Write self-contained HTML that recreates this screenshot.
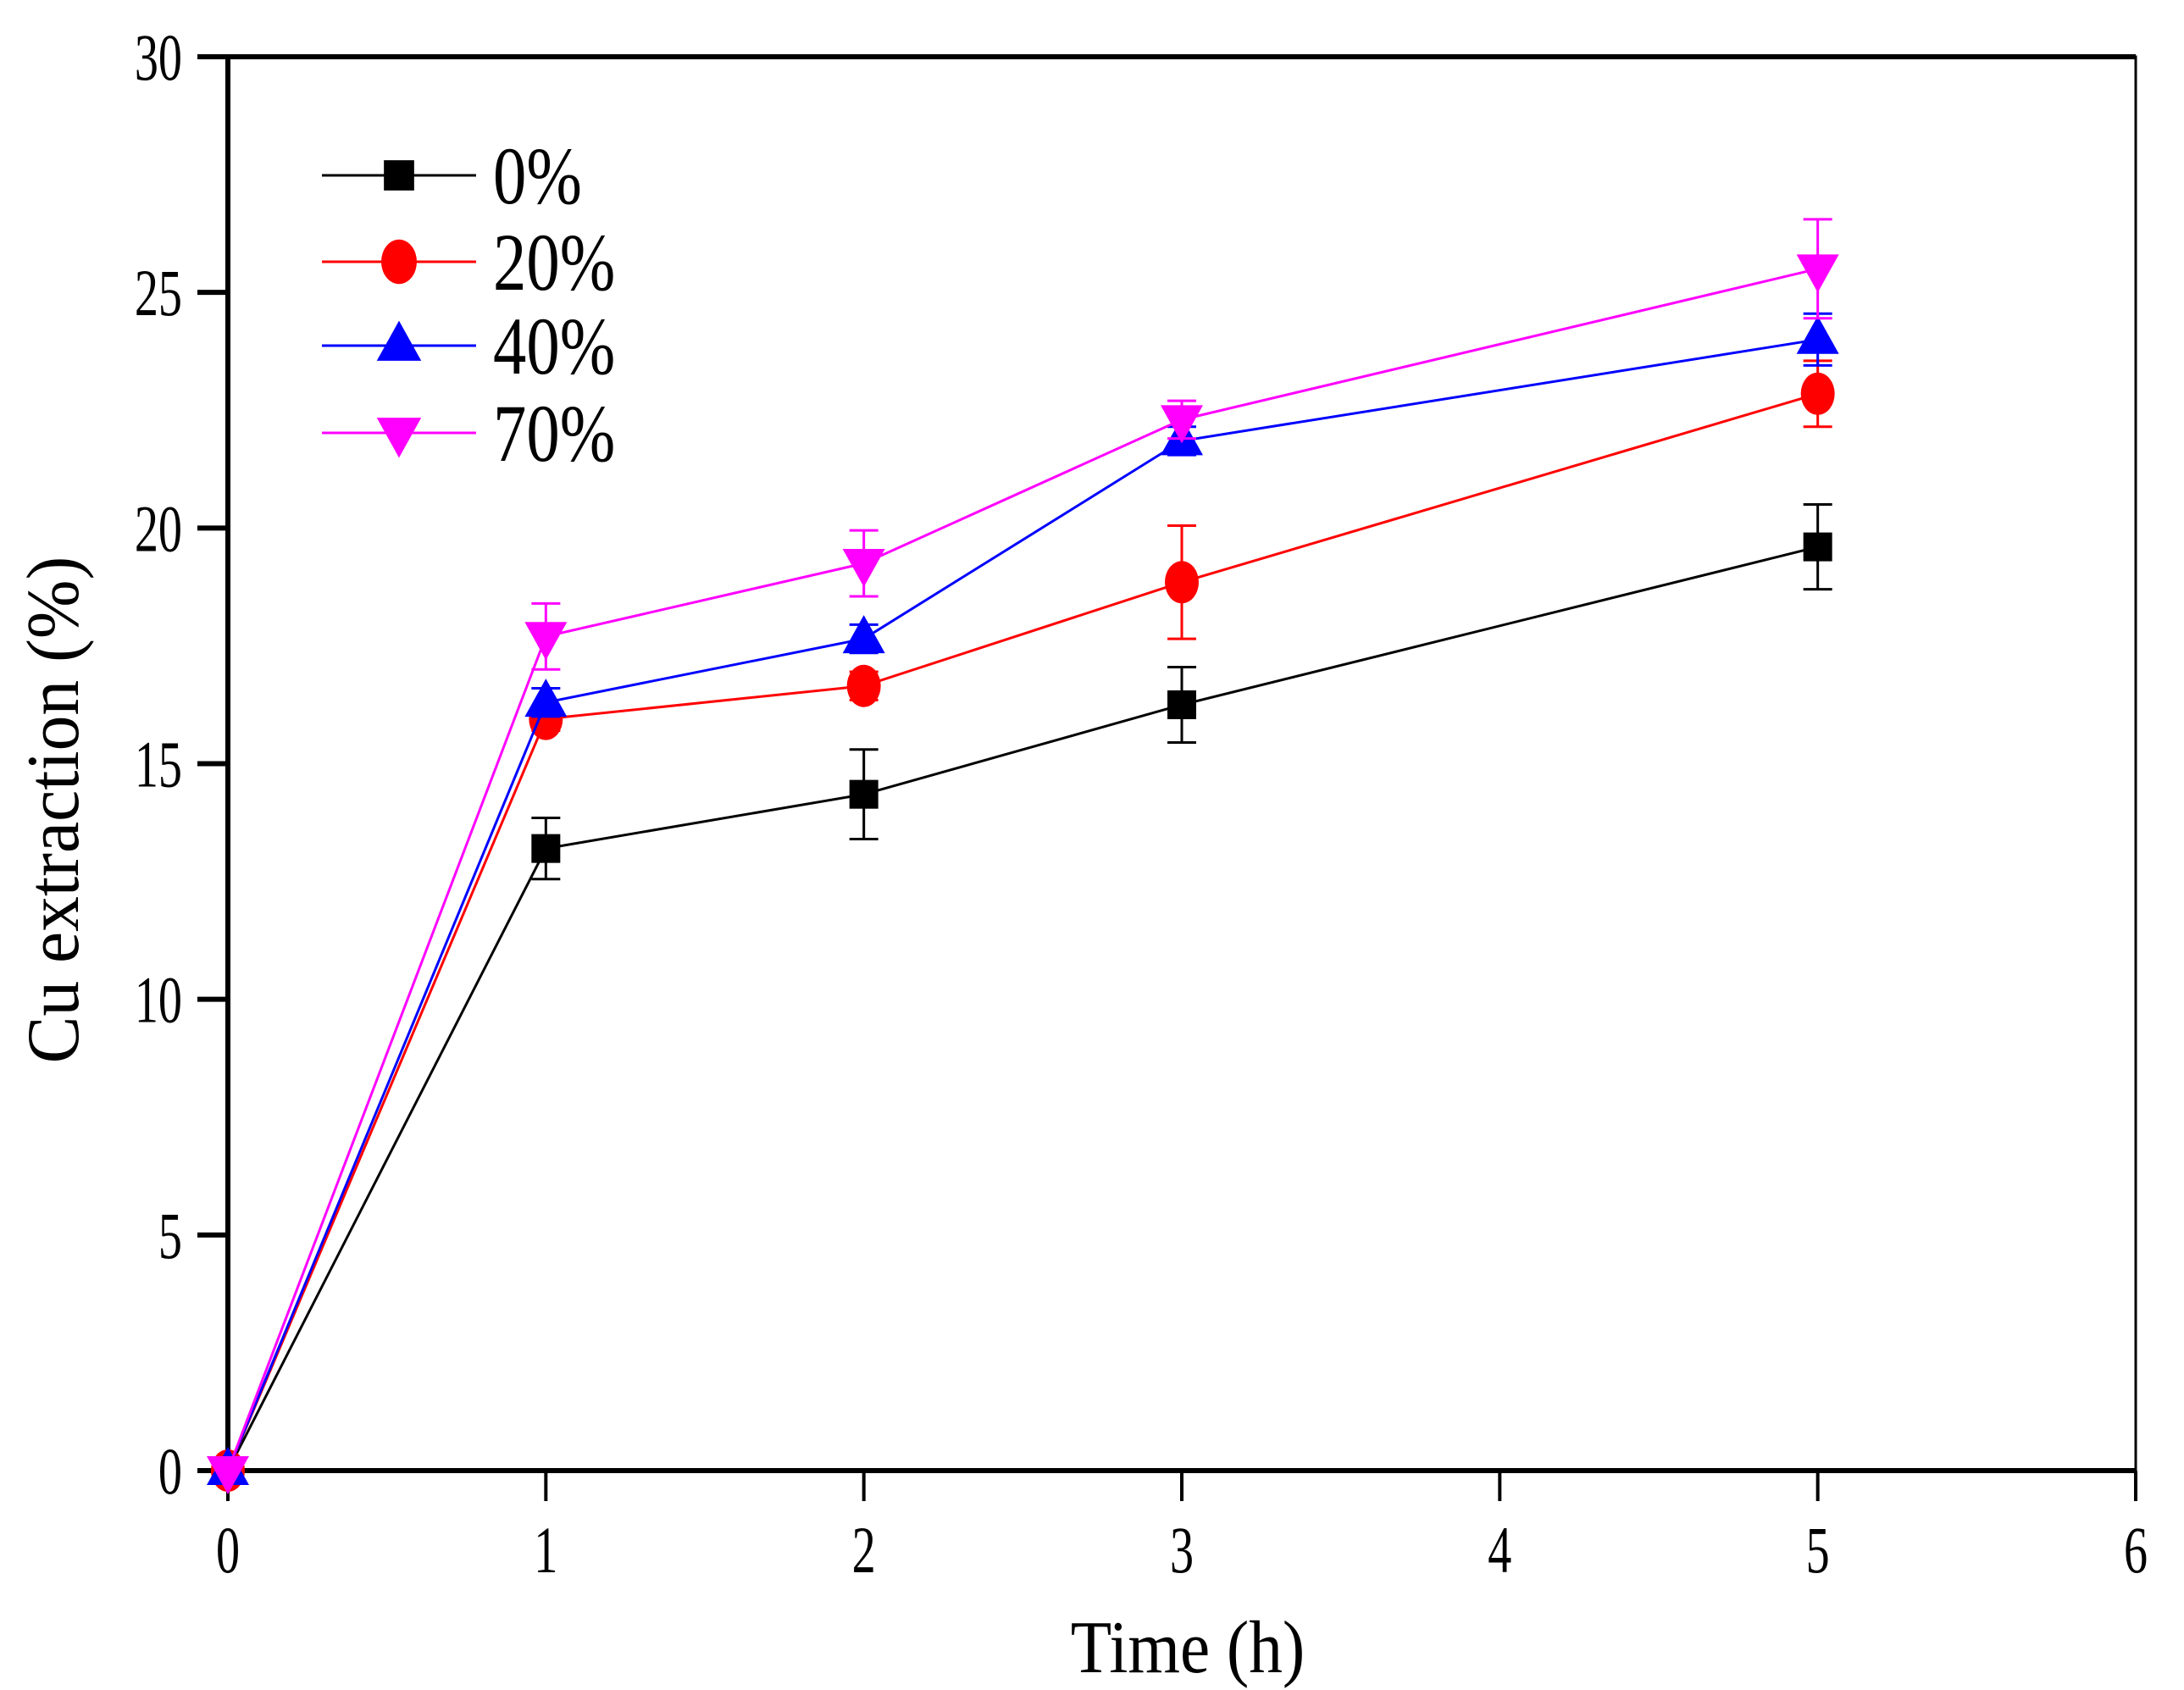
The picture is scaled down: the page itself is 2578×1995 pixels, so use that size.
<!DOCTYPE html>
<html><head><meta charset="utf-8"><style>
html,body{margin:0;padding:0;background:#fff;}
svg{display:block;}
text{font-family:"Liberation Serif",serif;fill:#000;}
</style></head><body>
<svg id="chart" width="2578" height="1995" viewBox="0 0 2578 1995" xmlns="http://www.w3.org/2000/svg">
<g id="grid"></g>
</svg>
<script>
const times = [0, 1, 2, 3, 5];
const seriesNames = ["0%", "20%", "40%", "70%"];
const vals0 = [0, 13.2, 14.35, 16.25, 19.6];
const vals20 = [0, 15.95, 16.65, 18.85, 22.85];
const vals40 = [0, 16.3, 17.65, 21.85, 24.0];
const vals70 = [0, 17.7, 19.25, 22.3, 25.5];
const err0 = [0, 0.65, 0.95, 0.8, 0.9];
const err20 = [0, 0.25, 0.3, 1.2, 0.7];
const err40 = [0, 0.3, 0.3, 0.3, 0.55];
const err70 = [0, 0.7, 0.7, 0.4, 1.05];
const xTicks = [0, 1, 2, 3, 4, 5, 6];
const yTicks = [0, 5, 10, 15, 20, 25, 30];

const NS = "http://www.w3.org/2000/svg";
const svg = document.getElementById('chart');
const X0 = 269, X1 = 2521, Y0 = 1736, Y1 = 67;
const xs = v => X0 + (v - 0) / 6 * (X1 - X0);
const ys = v => Y0 - v / 30 * (Y0 - Y1);
function mk(tag, attrs, parent) {
  const e = document.createElementNS(NS, tag);
  for (const k in attrs) e.setAttribute(k, attrs[k]);
  (parent || svg).appendChild(e);
  return e;
}
const colors = ["#000000", "#ff0000", "#0000ff", "#ff00ff"];
const allVals = [vals0, vals20, vals40, vals70];
const allErr = [err0, err20, err40, err70];
const shapes = ["square", "circle", "up", "down"];

function marker(shape, cx, cy, color, g, k) {
  k = k || 1;
  let e;
  if (shape === "square") e = mk('rect', {x: cx - 17*k, y: cy - 17*k, width: 34*k, height: 34*k, fill: color}, g);
  else if (shape === "circle") e = mk('ellipse', {cx: cx, cy: cy, rx: 20*k, ry: 25*k, fill: color}, g);
  else if (shape === "up") e = mk('polygon', {points: `${cx},${cy - 28*k} ${cx - 25*k},${cy + 17*k} ${cx + 25*k},${cy + 17*k}`, fill: color}, g);
  else e = mk('polygon', {points: `${cx},${cy + 28*k} ${cx - 25*k},${cy - 17*k} ${cx + 25*k},${cy - 17*k}`, fill: color}, g);
  return e;
}

const frame = mk('rect', {x: X0, y: Y1, width: X1 - X0, height: Y0 - Y1, fill: 'none', stroke: '#000', 'stroke-width': 3});


const yAxis = mk('line', {x1: X0, y1: Y1 - 3, x2: X0, y2: Y0 + 3, stroke: '#000', 'stroke-width': 6});


const xAxis = mk('line', {x1: X0 - 3, y1: Y0, x2: X1, y2: Y0, stroke: '#000', 'stroke-width': 6});


const topAxis = mk('line', {x1: X0 - 3, y1: Y1, x2: X1, y2: Y1, stroke: '#000', 'stroke-width': 6});



yTicks.forEach(t => {
  const tk = mk('line', {x1: X0 - 36, y1: ys(t), x2: X0, y2: ys(t), stroke: '#000', 'stroke-width': 6});
  
  
  const lb = mk('text', {x: 0, y: 0, 'font-size': 78, 'text-anchor': 'end', transform: `translate(215,${ys(t) + 27}) scale(0.72,1)`});
  lb.textContent = t;
  
  
});
xTicks.forEach(t => {
  const tk = mk('line', {x1: xs(t), y1: Y0, x2: xs(t), y2: Y0 + 36, stroke: '#000', 'stroke-width': 4});
  
  
  const lb = mk('text', {x: 0, y: 0, 'font-size': 78, 'text-anchor': 'middle', transform: `translate(${xs(t)},1856) scale(0.72,1)`});
  lb.textContent = t;
  
  
});

const xt = mk('text', {x: 0, y: 0, 'font-size': 88, 'text-anchor': 'middle', transform: 'translate(1402,1974) scale(0.9,1)'});
xt.textContent = 'Time (h)';


const yt = mk('text', {x: 0, y: 0, 'font-size': 88, 'text-anchor': 'middle', transform: 'translate(92,956) rotate(-90) scale(0.95,1)'});
yt.textContent = 'Cu extraction (%)';



allVals.forEach((vals, s) => {
  const g = mk('g', {});
  
  
  const pts = times.map((t, i) => xs(t) + ',' + ys(vals[i])).join(' ');
  const pl = mk('polyline', {points: pts, fill: 'none', stroke: colors[s], 'stroke-width': 3}, g);
  
  
  times.forEach((t, i) => {
    const e = allErr[s][i];
    if (e > 0) {
      const cx = xs(t), yt1 = ys(vals[i] + e), yb = ys(vals[i] - e);
      const eb = mk('path', {d: `M${cx},${yt1}V${yb}M${cx - 17},${yt1}H${cx + 17}M${cx - 17},${yb}H${cx + 17}`, stroke: colors[s], 'stroke-width': 3, fill: 'none'}, g);
      
      
    }
    const m = marker(shapes[s], xs(t), ys(vals[i]), colors[s], g);
    
    
  });
});

const legY = [207, 309, 408, 511];
seriesNames.forEach((n, s) => {
  const g = mk('g', {});
  
  
  mk('line', {x1: 380, y1: legY[s], x2: 562, y2: legY[s], stroke: colors[s], 'stroke-width': 3}, g);
  marker(shapes[s], 471, legY[s], colors[s], g, 1.05);
  const t = mk('text', {x: 0, y: 0, 'font-size': 96, transform: `translate(582,${legY[s] + 33}) scale(0.82,1)`}, g);
  t.textContent = n;
});
</script>
</body></html>
